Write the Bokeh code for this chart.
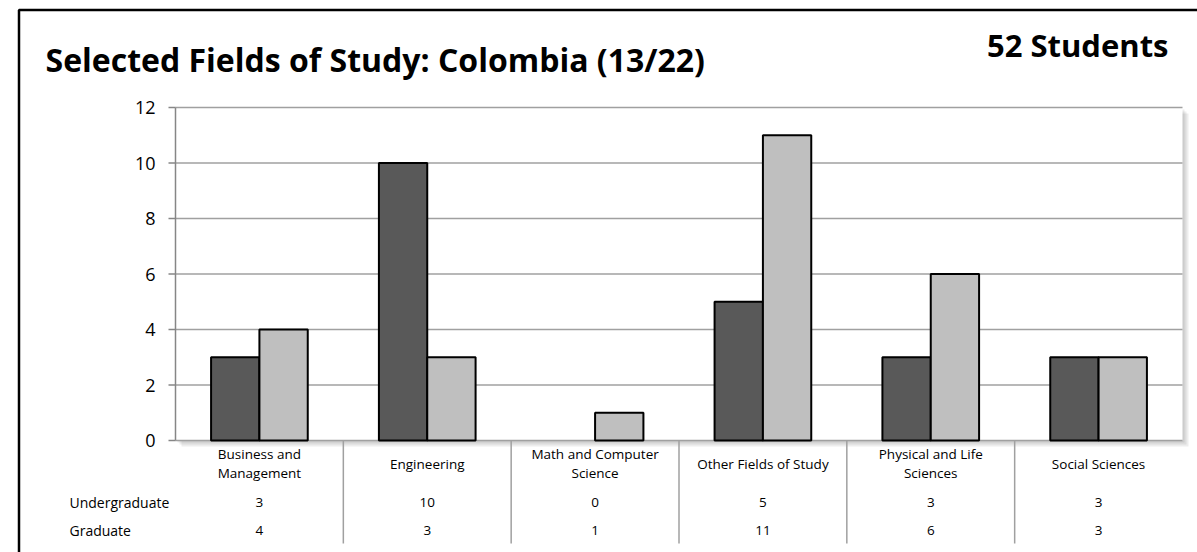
from bokeh.plotting import figure
from bokeh.models import Range1d, ColumnDataSource
from bokeh.embed import file_html
from bokeh.resources import INLINE
from bokeh.core.properties import value

categories = ["Business and Management", "Engineering", "Math and Computer Science",
              "Other Fields of Study", "Physical and Life Sciences", "Social Sciences"]
category_labels = ["Business and\nManagement", "Engineering", "Math and Computer\nScience",
                   "Other Fields of Study", "Physical and Life\nSciences", "Social Sciences"]
undergraduate = [3, 10, 0, 5, 3, 3]
graduate = [4, 3, 1, 11, 6, 3]
series_names = ["Undergraduate", "Graduate"]
series_colors = ["#595959", "#BFBFBF"]
y_ticks = [0, 2, 4, 6, 8, 10, 12]
title_text = "Selected Fields of Study: Colombia (13/22)"
total_text = f"{sum(undergraduate) + sum(graduate)} Students"

FONT = "Open Sans"
W, H = 1197, 552
n = len(categories)
ymax = y_ticks[-1]

# plot area placement in canvas pixels
PL, PT, PW, PH = 175, 107, 1007, 333
sx = n / PW          # data units per pixel (x)
sy = ymax / PH       # data units per pixel (y)

p = figure(width=W, height=H,
           x_range=Range1d(-PL * sx, (W - PL) * sx),
           y_range=Range1d(ymax - (H - PT) * sy, ymax + PT * sy),
           output_backend="svg", toolbar_location=None,
           x_axis_location=None, y_axis_location=None,
           min_border=0)
p.outline_line_color = None
p.background_fill_color = "white"
p.border_fill_color = "white"
p.grid.visible = False

GRID = "#A0A0A0"
AXIS = "#868686"

# plot-area drop shadow
for k in (2, 4, 6):
    p.quad(left=[n, k * sx], right=[n + k * sx, n], top=[ymax - k * sy, 0],
           bottom=[-k * sy, -k * sy], fill_color="black", fill_alpha=0.07, line_color=None)

# grid lines, axis line, tick marks and tick labels
p.segment(x0=[0] * len(y_ticks), x1=[n] * len(y_ticks), y0=y_ticks, y1=y_ticks,
          line_color=GRID, line_width=1.5)
p.segment(x0=[-7 * sx] * len(y_ticks), x1=[0] * len(y_ticks), y0=y_ticks, y1=y_ticks,
          line_color=AXIS, line_width=1.5)
p.segment(x0=[0], x1=[0], y0=[y_ticks[0]], y1=[ymax], line_color=AXIS, line_width=1.5)
p.text(x=[-20 * sx] * len(y_ticks), y=y_ticks, text=[str(t) for t in y_ticks],
       text_align="right", text_baseline="middle", text_font=value(FONT),
       text_font_size="18px", text_color="black")

# bars
bw = 0.288
centers = [i + 0.5 for i in range(n)]
src = ColumnDataSource(dict(
    xu=[c - bw / 2 for c in centers], xg=[c + bw / 2 for c in centers],
    u=undergraduate, g=graduate,
    ua=[1 if v > 0 else 0 for v in undergraduate], ga=[1 if v > 0 else 0 for v in graduate],
))
p.vbar(x="xu", top="u", bottom=0, width=bw, source=src, fill_color=series_colors[0],
       line_color="black", line_width=2, line_alpha="ua")
p.vbar(x="xg", top="g", bottom=0, width=bw, source=src, fill_color=series_colors[1],
       line_color="black", line_width=2, line_alpha="ga")

# data table below the plot
tsrc = ColumnDataSource(dict(x=centers, lab=category_labels,
                             u=[str(v) for v in undergraduate], g=[str(v) for v in graduate]))
TS = "13.5px"
p.text(x="x", y=-23 * sy, text="lab", source=tsrc, text_align="center", text_baseline="middle",
       text_font=value(FONT), text_font_size=TS, text_line_height=1.07, text_color="black")
p.text(x="x", y=-61.7 * sy, text="u", source=tsrc, text_align="center", text_baseline="middle",
       text_font=value(FONT), text_font_size=TS, text_color="black")
p.text(x="x", y=-90 * sy, text="g", source=tsrc, text_align="center", text_baseline="middle",
       text_font=value(FONT), text_font_size=TS, text_color="black")
p.text(x=[-106 * sx] * 2, y=[-61.7 * sy, -90 * sy], text=series_names, text_align="left",
       text_baseline="middle", text_font=value(FONT), text_font_size="14px", text_color="black")
p.segment(x0=list(range(1, n)), x1=list(range(1, n)), y0=[0] * (n - 1), y1=[-103 * sy] * (n - 1),
          line_color=GRID, line_width=1.5)

# titles
p.text(x=[-130 * sx], y=[ymax + 48 * sy], text=[title_text], text_align="left",
       text_baseline="middle", text_font=value(FONT), text_font_size="32px",
       text_font_style="bold", text_color="black")
p.text(x=[n - 14 * sx], y=[ymax + 62.5 * sy], text=[total_text], text_align="right",
       text_baseline="middle", text_font=value(FONT), text_font_size="31px",
       text_font_style="bold", text_color="black")

# outer frame of the chart (left and top edges visible)
bx, by = -156.5 * sx, ymax + 97.5 * sy
p.line(x=[bx, bx, n + 300 * sx], y=[-300 * sy, by, by], line_color="black", line_width=2.5)

open("out.html", "w").write(file_html(p, INLINE))
